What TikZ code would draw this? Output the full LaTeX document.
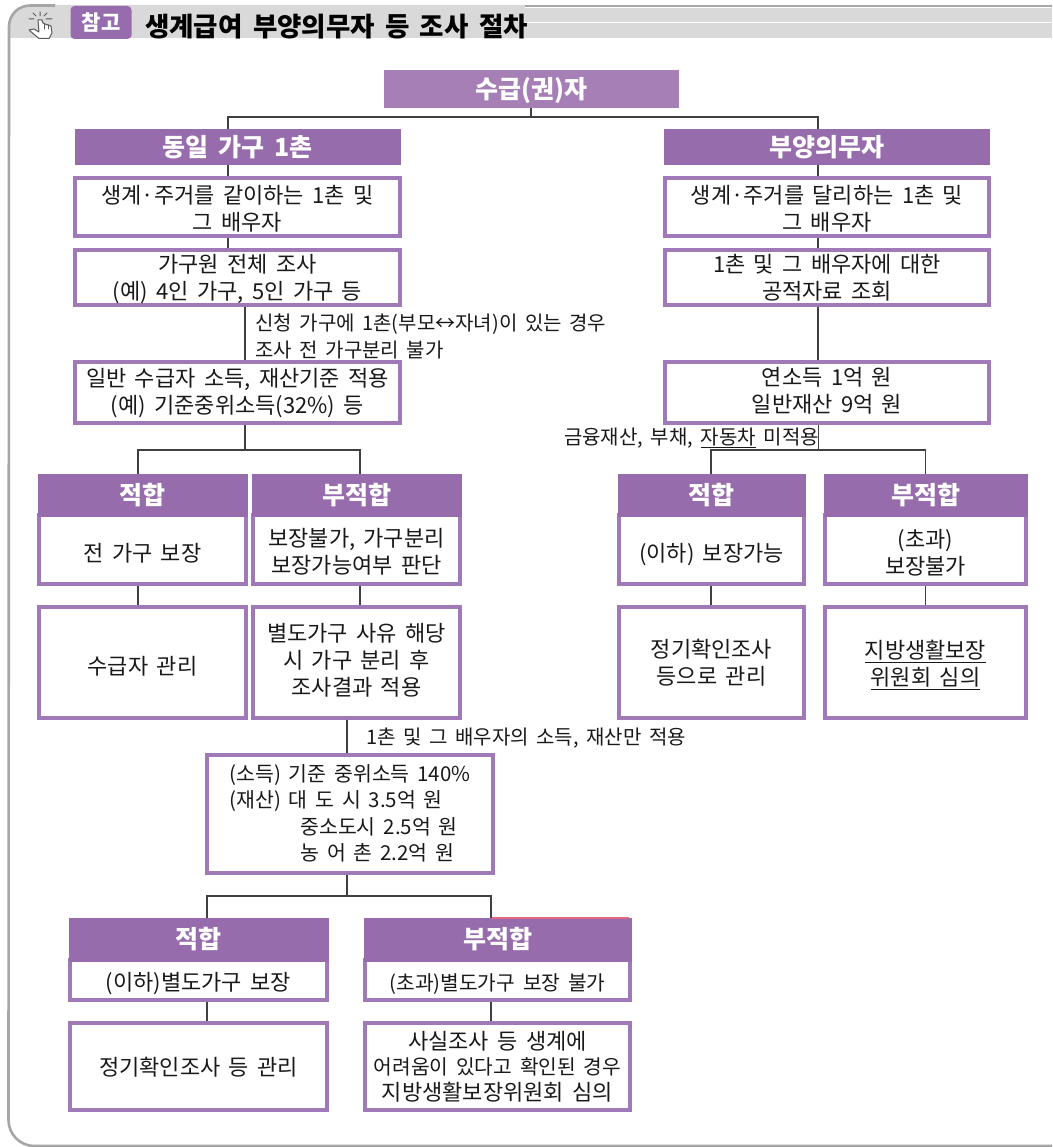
\documentclass[tikz,border=0pt]{standalone}
\usepackage{fontspec}
\setmainfont[WordSpace=1.7]{Noto Sans CJK KR}
\usetikzlibrary{calc}
\definecolor{pur}{HTML}{976CAD}
\definecolor{purtop}{HTML}{A57FB6}
\definecolor{purline}{HTML}{A07AB8}
\definecolor{band}{HTML}{D9D9D9}
\definecolor{frm}{HTML}{A6A6A6}
\definecolor{conn}{HTML}{404040}
\newcommand{\fsA}{\fontsize{22}{27}\selectfont}
\newcommand{\fsC}{\fontsize{20.3}{25}\selectfont}
\newcommand{\fsB}{\fontsize{20}{27}\selectfont}
\newcommand{\fsH}{\bfseries\fontsize{25}{28}\selectfont}
% name x1 y1 x2 y2 style text
\newcommand{\hx}[7]{\node[#6,minimum width={(#4-#2)*1pt},minimum height={(#5-#3)*1pt}] (#1) at ({(#2+#4)/2},{(#3+#5)/2}) {#7};}
% same, text lowered by \rz in the box; optional argument is the column alignment
\newcommand{\rz}{8.5pt}
\newcommand{\bx}[8][c]{\node[#7,minimum width={(#5-#3)*1pt},minimum height={(#6-#4)*1pt}] (#2) at ({(#3+#5)/2},{(#4+#6)/2}) {\raisebox{-\rz}[0pt][0pt]{\begin{tabular}{@{}#1@{}}#8\end{tabular}}};}
\tikzset{
 x=1pt,y=-1pt,
 bodybox/.style={draw=purline,line width=3.4pt,fill=white,inner sep=0pt,font=\fsA,text=black!90},
 headbox/.style={draw=pur,line width=1pt,fill=pur,inner sep=0pt,align=center,font=\fsH,text=white},
 wire/.style={draw=conn,line width=1.4pt},
 lbl/.style={inner sep=0pt,align=left,font=\fsB,text=black!90},
}
\begin{document}
\begin{tikzpicture}
\useasboundingbox (0,0) rectangle (1052,1147);
\fill[white] (0,0) rectangle (1052,1147);
% title band
\fill[band] (9,38) -- (9,26) arc[start angle=180,end angle=90,x radius=21pt,y radius=21pt] -- (525,5) -- (525,38) -- cycle;
\fill[band] (525,7) rectangle (1052,38);
\draw[white,line width=1pt] (525,23) -- (1052,23);
\draw[white,line width=1pt] (525,8) -- (1052,8);
\draw[frm,line width=1.4pt] (525,6) -- (1052,6);
\draw[frm,line width=2.6pt] (55,5.5) -- (30,5.5) arc[start angle=90,end angle=180,radius=21pt] -- (8.5,1120) arc[start angle=180,end angle=270,radius=26pt] -- (1052,1146);
% hand icon
\begin{scope}[draw=black!65,line width=1pt,line join=round,line cap=round]
\draw[fill=white] (38,20) -- (39,32) -- (34,29) -- (29,30) -- (39,38.5) -- (49,38.5) -- (52,33) -- (51,26) -- (45,24) -- (43,23) -- (42,20) -- cycle;
\draw (44,24) -- (44,29) (48,25) -- (48,29);
\draw (40,12) -- (40,16) (33,13) -- (36,16) (47,13) -- (44,16) (29,19) -- (34,19) (46,19) -- (52,19);
\end{scope}
% title
\node[fill=pur,rounded corners=4pt,text=white,font=\bfseries\fontsize{21}{24}\selectfont,minimum width=61pt,minimum height=33pt,inner sep=0pt] (tag) at (101,22.5) {참고};
\node[inner sep=0pt,anchor=west,font=\bfseries\fontsize{26.5}{30}\selectfont,text=black] (title) at (145,27) {생계급여 부양의무자 등 조사 절차};
% top
\hx{top}{384}{70}{679}{108}{fill=purtop,inner sep=0pt,font=\fsH,text=white}{\raisebox{-9.5pt}[0pt][0pt]{수급(권)자}}
\hx{ha}{75}{130}{400}{165}{headbox}{동일 가구 1촌}
\hx{hb}{664}{130}{989}{165}{headbox}{부양의무자}
\renewcommand{\rz}{10pt}
\bx{a1}{75}{178}{400}{236}{bodybox}{생계·주거를 같이하는 1촌 및\\그 배우자}
\bx{b1}{665}{178}{989}{236}{bodybox}{생계·주거를 달리하는 1촌 및\\그 배우자}
\renewcommand{\rz}{8pt}
\bx{a2}{75}{250}{400}{305}{bodybox}{가구원 전체 조사\\(예) 4인 가구, 5인 가구 등}
\bx{b2}{665}{250}{989}{305}{bodybox}{1촌 및 그 배우자에 대한\\공적자료 조회}
\renewcommand{\rz}{7.5pt}
\bx{a3}{75}{362}{400}{423}{bodybox}{일반 수급자 소득, 재산기준 적용\\(예) 기준중위소득(32\%) 등}
\renewcommand{\rz}{6pt}
\bx{b3}{665}{362}{989}{423}{bodybox}{연소득 1억 원\\일반재산 9억 원}
% row 1 cards
\renewcommand{\rz}{12pt}
\bx{c1}{39}{515}{246}{584}{bodybox}{전 가구 보장}
\hx{c1h}{38}{474}{247}{516}{headbox}{적합}
\renewcommand{\rz}{10.5pt}
\bx{c2}{253}{515}{460}{584}{bodybox}{보장불가, 가구분리\\보장가능여부 판단}
\hx{c2h}{252}{474}{461}{516}{headbox}{부적합}
\renewcommand{\rz}{11.5pt}
\bx{d1}{619}{515}{804}{584}{bodybox}{(이하) 보장가능}
\hx{d1h}{618}{474}{805}{516}{headbox}{적합}
\bx{d2}{825}{515}{1026}{584}{bodybox}{(초과)\\보장불가}
\hx{d2h}{824}{474}{1027}{516}{headbox}{부적합}
\renewcommand{\rz}{12pt}
\bx{e1}{39}{607}{246}{718}{bodybox}{수급자 관리}
\renewcommand{\rz}{6pt}
\bx{e2}{253}{607}{460}{718}{bodybox}{별도가구 사유 해당\\시 가구 분리 후\\조사결과 적용}
\renewcommand{\rz}{8.5pt}
\bx{f1}{619}{607}{804}{718}{bodybox}{정기확인조사\\등으로 관리}
\renewcommand{\rz}{9.5pt}
\bx{f2}{825}{607}{1026}{718}{bodybox}{\underline{지방생활보장}\\\underline{위원회 심의}}
\renewcommand{\rz}{7pt}
\bx[l]{g}{207}{755}{493}{873}{bodybox,font=\fontsize{20.5}{26.5}\selectfont}{(소득) 기준 중위소득 140\%\\(재산) 대 도 시 3.5억 원\\\hspace*{71pt}중소도시 2.5억 원\\\hspace*{71pt}농 어 촌 2.2억 원}
% row 3
\renewcommand{\rz}{10.5pt}
\bx{k1}{70}{960}{327}{1000}{bodybox}{(이하)별도가구 보장}
\hx{k1h}{69}{918}{328}{961}{headbox}{적합}
\bx{k2}{365}{960}{630}{1000}{bodybox,font=\fsC}{(초과)별도가구 보장 불가}
\hx{k2h}{364}{918}{631}{961}{headbox}{부적합}
\renewcommand{\rz}{9pt}
\bx{m1}{70}{1023}{327}{1110}{bodybox}{정기확인조사 등 관리}
\renewcommand{\rz}{8pt}
\bx{m2}{365}{1023}{630}{1110}{bodybox,font=\fontsize{22}{25}\selectfont}{사실조사 등 생계에\\{\fsC 어려움이 있다고 확인된 경우}\\지방생활보장위원회 심의}
\draw[draw=purple!45!pink,line width=1.6pt] (491,918) -- (629,918);
% junctions
\coordinate (ja) at (228,117);
\coordinate (jb) at (818,117);
\coordinate (jt) at (531,117);
\coordinate (jc) at (245,450);
\coordinate (jd) at (818.5,450);
\coordinate (je) at (347,896);
\coordinate (x1) at (138,0);
\coordinate (x2) at (360,0);
\coordinate (x3) at (711,0);
\coordinate (x4) at (925.5,0);
\coordinate (x5) at (207,0);
\coordinate (x6) at (491,0);
\draw[wire] (top.south -| jt) -- (jt);
\draw[wire] (ha.north -| ja) -- (ja) -- (jb) -- (hb.north -| jb);
\draw[wire] (ha.south -| ja) -- (a1.north -| ja);
\draw[wire] (a1.south -| ja) -- (a2.north -| ja);
\draw[wire] (a2.south -| jc) -- (a3.north -| jc);
\draw[wire] (a3.south -| jc) -- (jc);
\draw[wire] (c1h.north -| x1) -- (jc -| x1) -- (jc -| x2) -- (c2h.north -| x2);
\draw[wire] (c1.south -| x1) -- (e1.north -| x1);
\draw[wire] (c2.south -| x2) -- (e2.north -| x2);
\draw[wire] (hb.south -| jb) -- (b1.north -| jb);
\draw[wire] (b1.south -| jb) -- (b2.north -| jb);
\draw[wire] (b2.south -| jb) -- (b3.north -| jb);
\draw[wire] (b3.south -| jd) -- (jd);
\draw[wire] (d1h.north -| x3) -- (jd -| x3) -- (jd -| x4) -- (d2h.north -| x4);
\draw[wire] (d1.south -| x3) -- (f1.north -| x3);
\draw[wire] (d2.south -| x4) -- (f2.north -| x4);
\draw[wire] (e2.south -| je) -- (g.north -| je);
\draw[wire] (g.south -| je) -- (je);
\draw[wire] (k1h.north -| x5) -- (je -| x5) -- (je -| x6) -- (k2h.north -| x6);
\draw[wire] (k1.south -| x5) -- (m1.north -| x5);
\draw[wire] (k2.south -| x6) -- (m2.north -| x6);
% labels
\node[lbl,anchor=north west] (l1) at (255,314) {신청 가구에 1촌(부모↔자녀)이 있는 경우\\조사 전 가구분리 불가};
\node[lbl,anchor=east] (l2) at (819,438) {금융재산, 부채, \underline{자동차} 미적용};
\node[lbl,anchor=west] (l3) at (366,738) {1촌 및 그 배우자의 소득, 재산만 적용};
\end{tikzpicture}
\end{document}
